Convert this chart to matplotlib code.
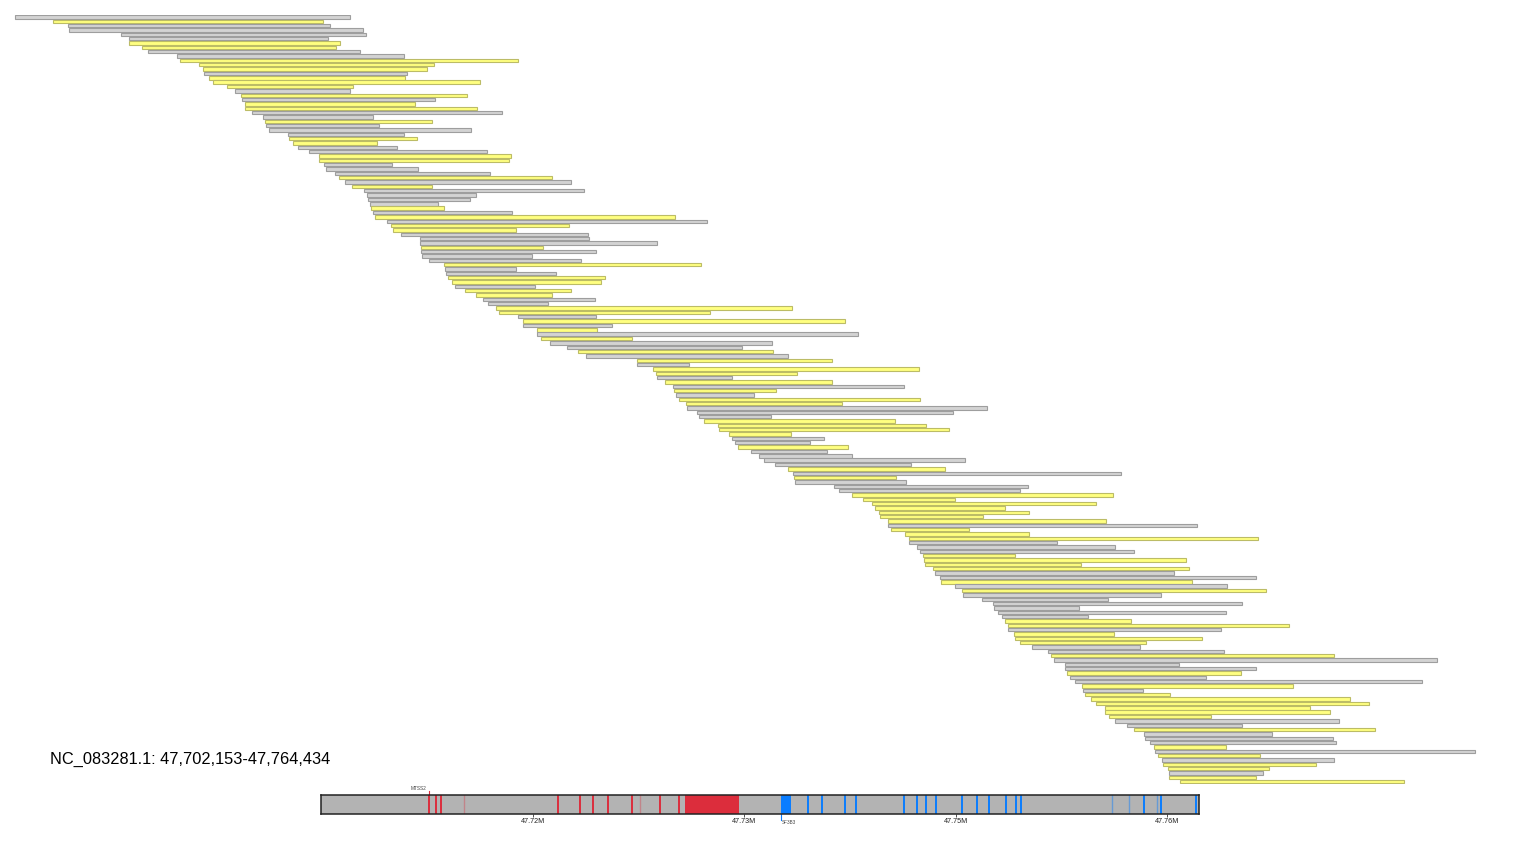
import matplotlib
matplotlib.use("Agg")
import matplotlib.pyplot as plt

plt.rcParams['font.family'] = ['Liberation Sans', 'DejaVu Sans']

# =========================
# Datos
# =========================
region_title = "NC_083281.1: 47,702,153-47,764,434"

# lecturas (posicion en pista, 0-1536) y color (Y = amarillo, G = gris)
read_start = [
    15, 53, 68, 69, 121, 129, 129, 142, 148, 177,
    180, 199, 203, 204, 209, 213, 227, 235, 241, 242,
    245, 245, 252, 263, 265, 266, 269, 288, 289, 293,
    298, 309, 319, 319, 324, 326, 335, 339, 345, 352,
    364, 367, 368, 370, 371, 373, 375, 387, 391, 393,
    401, 420, 420, 421, 421, 422, 429, 444, 445, 446,
    448, 452, 455, 465, 476, 483, 488, 496, 499, 518,
    523, 523, 537, 537, 541, 550, 567, 578, 586, 637,
    637, 653, 656, 657, 665, 673, 674, 676, 679, 686,
    687, 697, 699, 704, 718, 719, 729, 732, 735, 738,
    751, 759, 764, 775, 788, 793, 794, 795, 834, 839,
    852, 863, 872, 875, 879, 880, 888, 888, 891, 905,
    909, 909, 917, 920, 923, 924, 925, 933, 935, 940,
    941, 955, 962, 963, 982, 993, 994, 998, 1002, 1005,
    1008, 1008, 1014, 1015, 1020, 1032, 1048, 1051, 1054, 1065,
    1065, 1067, 1070, 1075, 1082, 1083, 1085, 1091, 1096, 1105,
    1105, 1109, 1115, 1127, 1134, 1144, 1145, 1150, 1154, 1155,
    1158, 1162, 1163, 1168, 1169, 1169, 1180,
]
read_end = [
    350, 323, 330, 363, 366, 328, 340, 336, 360, 404,
    518, 434, 427, 407, 405, 480, 353, 350, 467, 435,
    415, 477, 502, 373, 432, 379, 471, 404, 417, 377,
    397, 487, 511, 509, 392, 418, 490, 552, 571, 432,
    584, 476, 470, 438, 444, 512, 675, 707, 569, 516,
    588, 589, 657, 543, 596, 532, 581, 701, 516, 556,
    605, 601, 535, 571, 552, 595, 548, 792, 710, 596,
    845, 612, 597, 858, 632, 772, 742, 773, 788, 832,
    689, 919, 797, 732, 832, 904, 776, 754, 920, 842,
    987, 953, 771, 895, 926, 949, 791, 824, 810, 848,
    827, 852, 965, 911, 945, 1121, 896, 906, 1028, 1020,
    1113, 955, 1096, 1005, 1029, 983, 1106, 1197, 969, 1029,
    1258, 1057, 1115, 1134, 1015, 1186, 1081, 1189, 1174, 1256,
    1192, 1227, 1266, 1161, 1108, 1242, 1079, 1226, 1088, 1131,
    1289, 1221, 1114, 1202, 1146, 1140, 1224, 1334, 1437, 1179,
    1256, 1241, 1206, 1422, 1293, 1143, 1170, 1350, 1369, 1310,
    1330, 1211, 1339, 1242, 1375, 1272, 1333, 1336, 1226, 1475,
    1260, 1334, 1316, 1269, 1263, 1256, 1404,
]
read_color = list(
    "GYGGGGYYGG"
    "YYYGYYYGYG"
    "YYGGYGGGYY"
    "GGYYGGGYGY"
    "GGGGYGYGYY"
    "GGGYGGGYGG"
    "YYGYYGGYYG"
    "YGYGYGGYGY"
    "GYYGYGYGYY"
    "GGGYYYYGGY"
    "GGGGYGYGGG"
    "YYYYYYYGYY"
    "YGGGYYYYGG"
    "YGYGGGGGGY"
    "YGYYYGGYGG"
    "GYGGYGYYYY"
    "YYGGYGGGYG"
    "YGYYGYY"
)

# ideograma (pb)
ideo_start = 47704950
ideo_end = 47767279
ideo_ticks = [47720000, 47735000, 47750000, 47765000]
ideo_tick_labels = ["47.72M", "47.73M", "47.75M", "47.76M"]

red_lines = [47712596, 47713114, 47713490, 47721753, 47723336, 47724281,
             47725303, 47727049, 47729016, 47730364]
red_faint = [47715123, 47727575]
red_block = (47730790, 47734602)

blue_lines = [47739501, 47740516, 47742127, 47742951, 47746337, 47747239,
              47747920, 47748609, 47750455, 47751541, 47752393, 47753578,
              47754288, 47754622, 47763354, 47764603, 47767045]
blue_faint = [47761082, 47762310, 47764298]
blue_block = (47737605, 47738315)

gene_left = ("MTSS2", 47712596)
gene_right = ("SF3B3", 47737605)

# =========================
# Colores
# =========================
YELLOW = "#ffff80"
YELLOW_EDGE = "#bcbc66"
GRAY = "#d3d3d3"
GRAY_EDGE = "#9e9e9e"
RED = "#dc2d3c"
BLUE = "#0a7dff"

W, H = 1536, 864
fig = plt.figure(figsize=(W / 100, H / 100), dpi=100)

# =========================
# Lecturas
# =========================
n = len(read_start)
pitch = (781.7 - 17) / (n - 1)
top_px = 17 - pitch / 2
bot_px = 781.7 + pitch / 2
ax = fig.add_axes([0, 1 - bot_px / H, 1, (bot_px - top_px) / H])

rows = list(range(n))
widths = [e - s for s, e in zip(read_start, read_end)]
faces = [YELLOW if c == "Y" else GRAY for c in read_color]
edges = [YELLOW_EDGE if c == "Y" else GRAY_EDGE for c in read_color]
ax.barh(rows, widths, left=read_start, height=0.78,
        color=faces, edgecolor=edges, linewidth=0.8)
ax.set_xlim(0, W)
ax.set_ylim(n - 0.5, -0.5)
ax.axis("off")

fig.text(50 / W, 1 - 759 / H, region_title, fontsize=11.8,
         ha="left", va="center", color="black")

# =========================
# Ideograma
# =========================
ix0, ix1, iy0, iy1 = 321, 1199, 794.5, 814
iax = fig.add_axes([ix0 / W, 1 - iy1 / H, (ix1 - ix0) / W, (iy1 - iy0) / H])
iax.set_facecolor("#b3b3b3")
iax.set_xlim(ideo_start, ideo_end)
iax.set_ylim(0, 1)

for x in red_lines:
    iax.axvline(x, color=RED, lw=1.4)
for x in red_faint:
    iax.axvline(x, color=RED, lw=1.0, alpha=0.35)
iax.axvspan(*red_block, color=RED, lw=0)

for x in blue_lines:
    iax.axvline(x, color=BLUE, lw=1.4)
for x in blue_faint:
    iax.axvline(x, color=BLUE, lw=1.0, alpha=0.45)
iax.axvspan(*blue_block, color=BLUE, lw=0)

for s in iax.spines.values():
    s.set_color("#222222")
    s.set_linewidth(1.1)

iax.set_yticks([])
iax.set_xticks(ideo_ticks)
iax.set_xticklabels(ideo_tick_labels)
iax.tick_params(axis="x", length=2, width=0.6, pad=0.6, labelsize=5.2,
                color="#333333", labelcolor="#222222")

# genes marcados
name, gx = gene_left
iax.plot([gx, gx], [1.0, 1.2], color=RED, lw=0.8, clip_on=False)
iax.text(gx - 200, 1.31, name, fontsize=3.4, ha="right", va="center",
         color="#444444", clip_on=False)

name, gx = gene_right
iax.plot([gx, gx], [0.0, -0.32], color=BLUE, lw=0.8, clip_on=False)
iax.text(gx + 60, -0.46, name, fontsize=3.3, ha="left", va="center",
         color="#444444", clip_on=False)

fig.savefig("out.png", dpi=100)
